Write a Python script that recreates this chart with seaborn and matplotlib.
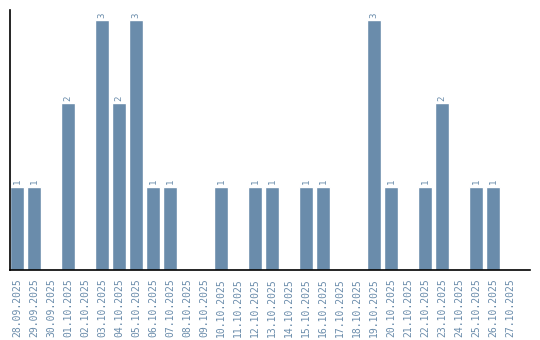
import matplotlib
matplotlib.use("Agg")
import matplotlib.pyplot as plt
import seaborn as sns
import pandas as pd

dates = ["28.09.2025", "29.09.2025", "30.09.2025", "01.10.2025", "02.10.2025",
         "03.10.2025", "04.10.2025", "05.10.2025", "06.10.2025", "07.10.2025",
         "08.10.2025", "09.10.2025", "10.10.2025", "11.10.2025", "12.10.2025",
         "13.10.2025", "14.10.2025", "15.10.2025", "16.10.2025", "17.10.2025",
         "18.10.2025", "19.10.2025", "20.10.2025", "21.10.2025", "22.10.2025",
         "23.10.2025", "24.10.2025", "25.10.2025", "26.10.2025", "27.10.2025"]
counts = [1, 1, 0, 2, 0, 3, 2, 3, 1, 1,
          0, 0, 1, 0, 1, 1, 0, 1, 1, 0,
          0, 3, 1, 0, 1, 2, 0, 1, 1, 0]

df = pd.DataFrame({"date": dates, "count": counts})

sns.set_style("white")
fig = plt.figure(figsize=(5.4, 3.4), dpi=100)
ax = fig.add_axes([10/540, 70/340, 520/540, 260/340])

color = "#6a8cab"
sns.barplot(data=df, x="date", y="count", color=color, width=14/17,
            saturation=1, ax=ax)

for i, v in enumerate(counts):
    if v > 0:
        ax.text(i, v + 0.03, str(v), rotation=90, ha="center", va="bottom",
                fontsize=6.5, color=color, family="DejaVu Sans Mono")

ax.set_xlim(-7/17, 30.18)
ax.set_ylim(0, 3.12)
ax.set_xlabel("")
ax.set_ylabel("")
ax.set_yticks([])
ax.tick_params(axis="x", length=0, pad=6)
ax.set_xticks(range(len(dates)))
ax.set_xticklabels(dates, rotation=90, fontsize=7, color=color,
                   family="DejaVu Sans Mono", va="top")
for s in ["top", "right"]:
    ax.spines[s].set_visible(False)
for s in ["left", "bottom"]:
    ax.spines[s].set_color("black")
    ax.spines[s].set_linewidth(1.2)

fig.savefig("out.png", dpi=100)
